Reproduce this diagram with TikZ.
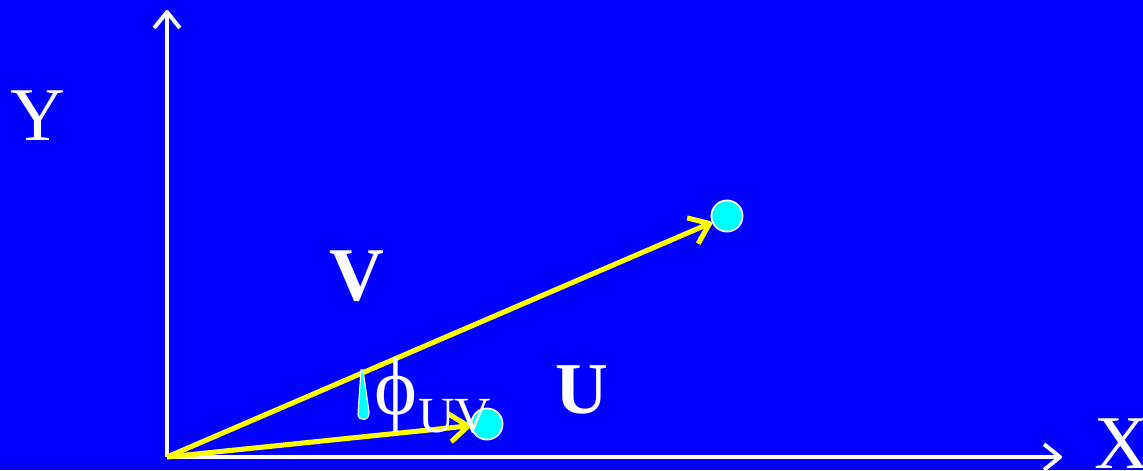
\documentclass[tikz,border=0pt]{standalone}
\usepackage{fontspec}
\setmainfont{Liberation Serif}
\usetikzlibrary{arrows.meta, positioning}
\definecolor{slideblue}{RGB}{0,0,255}
\definecolor{dotcyan}{RGB}{0,255,255}
\definecolor{vecyellow}{RGB}{255,255,0}

\begin{document}
\begin{tikzpicture}[
    x=0.025cm, y=-0.025cm,
    axis/.style={-{Straight Barb[length=4mm, width=6.4mm, line join=round]}, line width=2.8pt, white},
    vec/.style={-{Straight Barb[length=4.6mm, width=7mm, line join=round]}, line width=3.6pt, vecyellow},
    dot/.style={circle, draw=white, line width=1.2pt, fill=dotcyan, minimum size=0.78cm, inner sep=0pt},
    lbl/.style={text=white, anchor=base, inner sep=0pt, font=\fontsize{54}{60}\selectfont}
]
% background
\fill[slideblue] (0,0) rectangle (1143,470);
\useasboundingbox (0,0) rectangle (1143,470);

% axes
\coordinate (o) at (167,457);
\coordinate (ytop) at (167,10);
\coordinate (xend) at (1062,457);
\draw[axis] (o) -- (ytop);
\draw[axis] (o) -- (xend);
\node[lbl] (ylbl) at (38,140) {Y};
\node[lbl] (xlbl) at (1122,468) {X};

% end points and vectors
\node[dot] (vend) at (727,216) {};
\node[dot] (uend) at (487,424) {};
\draw[vec] (o) -- (vend);
\draw[vec] (o) -- (uend);
\node[lbl, font=\fontsize{54}{60}\selectfont\bfseries] (vlbl) at (357,300) {V};
\node[lbl, font=\fontsize{52}{58}\selectfont\bfseries] (ulbl) at (582,413) {U};

% angle between U and V
\fill[dotcyan, draw=white, line width=0.8pt] (361,370) -- (363,370) -- (369,412)
    .. controls (370,421) and (358,422) .. (358,414) -- cycle;
\node[lbl, font=\fontsize{58}{62}\selectfont, anchor=base east] (phi) at (418,414) {ϕ};
\node[lbl, font=\fontsize{36}{40}\selectfont, anchor=base west] (uv) at (phi.base east) {\raisebox{-13pt}{UV}};

\end{tikzpicture}
\end{document}
